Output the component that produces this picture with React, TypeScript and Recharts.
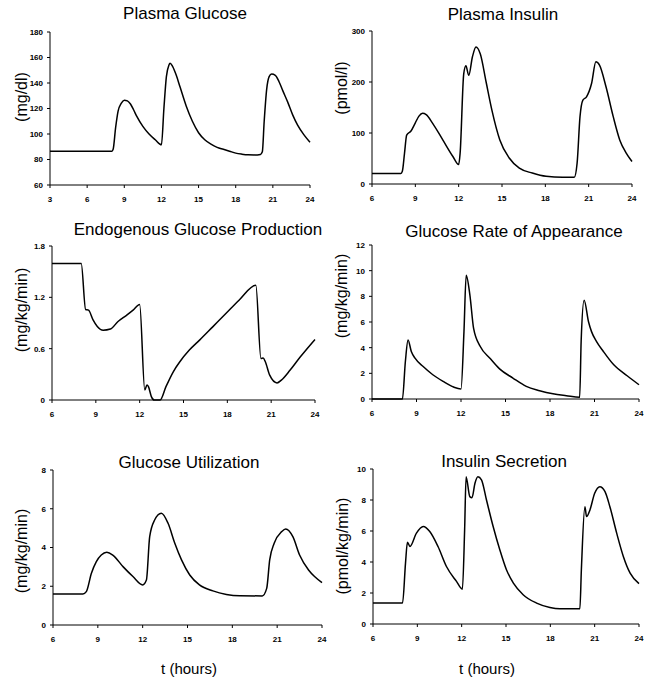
import { Line, LineChart, XAxis, YAxis } from "recharts";

// ---- data (t in hours) ----
const glucoseHours = [3, 8, 8.1, 8.3, 8.5, 8.75, 9, 9.25, 9.5, 9.75, 10, 10.5, 11, 11.5, 12, 12.2, 12.4, 12.6, 12.7, 12.9, 13.2, 13.5, 14, 14.5, 15, 15.5, 16, 16.5, 17, 17.5, 18, 18.5, 19, 19.5, 20, 20.15, 20.3, 20.5, 20.7, 20.9, 21.2, 21.5, 21.8, 22.2, 22.6, 23, 23.5, 24];
const glucoseMgDl = [86.5, 86.5, 88, 105, 118, 124, 126.5, 126, 123.5, 119, 114, 106, 100, 95.5, 91.5, 120, 145, 154, 155.5, 153, 146, 137, 122, 110, 101, 95.5, 92, 89.5, 88, 86.5, 85, 84.2, 83.7, 83.6, 84, 86, 110, 135, 145, 147, 146, 141, 134, 125, 115, 107, 99.5, 93.5];

const insulinHours = [6, 8, 8.1, 8.25, 8.4, 8.7, 9, 9.25, 9.5, 9.75, 10.2, 10.9, 11.6, 12, 12.1, 12.35, 12.5, 12.7, 12.95, 13.2, 13.5, 13.9, 14.3, 14.85, 15.5, 16.2, 17.1, 18.05, 19.2, 20, 20.2, 20.4, 20.6, 20.85, 21.2, 21.5, 21.75, 22.2, 22.7, 23.15, 23.6, 24];
const insulinPmolL = [20.8, 20.8, 25, 60, 96, 104, 120, 133, 138.6, 136, 119, 86.5, 54, 38, 60, 216, 232, 213, 249, 268.7, 255, 200, 145, 86.5, 51, 31, 21.5, 15, 13, 13, 41, 132, 164.6, 171, 197, 239.5, 233, 190.6, 132, 86.5, 60.5, 44];

const egpHours = [6, 8, 8.3, 8.5, 8.8, 9.1, 9.5, 10, 10.5, 11.1, 11.55, 12, 12.35, 12.5, 12.6, 12.8, 13, 13.4, 13.8, 14.3, 14.75, 15.4, 16.1, 17, 17.9, 18.8, 19.95, 20.3, 20.45, 20.6, 20.9, 21.4, 21.7, 22.3, 23, 24];
const egpRate = [1.594, 1.594, 1.058, 1.05, 0.94, 0.86, 0.816, 0.83, 0.914, 0.99, 1.05, 1.116, 0.117, 0.175, 0.156, 0.04, 0, 0, 0.156, 0.33, 0.447, 0.583, 0.7, 0.855, 1.01, 1.166, 1.341, 0.486, 0.49, 0.447, 0.29, 0.2, 0.233, 0.35, 0.505, 0.708];

const raHours = [6, 8.05, 8.25, 8.43, 8.65, 8.9, 9.45, 10.1, 10.8, 11.5, 12, 12.2, 12.35, 12.6, 12.85, 13.3, 13.95, 14.6, 15.5, 16.4, 17.3, 18.2, 19.1, 20, 20.1, 20.3, 20.6, 20.8, 21.14, 21.6, 22.3, 23.2, 24];
const raRate = [0, 0, 2.92, 4.6, 3.7, 3.18, 2.53, 1.89, 1.37, 0.93, 0.78, 5.25, 9.65, 8.1, 5.5, 4.09, 3.18, 2.35, 1.63, 0.98, 0.65, 0.41, 0.26, 0.13, 4.5, 7.7, 6.0, 5.25, 4.47, 3.7, 2.66, 1.81, 1.11];

const uptakeHours = [6, 8, 8.23, 8.57, 8.9, 9.23, 9.6, 10, 10.7, 11.35, 12, 12.25, 12.47, 12.8, 13.25, 13.7, 14.15, 14.6, 15.15, 15.8, 16.7, 17.6, 18.5, 20, 20.3, 20.5, 20.8, 21.3, 21.57, 22.05, 22.5, 23.1, 23.5, 24];
const uptakeRate = [1.6, 1.6, 1.72, 2.67, 3.27, 3.61, 3.75, 3.61, 3.0, 2.5, 2.07, 2.32, 4.56, 5.42, 5.77, 5.25, 4.22, 3.36, 2.58, 2.07, 1.76, 1.58, 1.51, 1.5, 1.89, 3.36, 4.22, 4.82, 4.96, 4.56, 3.61, 2.84, 2.5, 2.19];

const secretionHours = [6, 8, 8.2, 8.33, 8.5, 8.94, 9.4, 9.84, 10.4, 10.97, 11.65, 12.05, 12.2, 12.3, 12.55, 12.7, 12.9, 13.1, 13.34, 13.68, 14.13, 14.58, 15.03, 15.5, 16.16, 17.07, 17.97, 18.65, 20, 20.1, 20.34, 20.45, 20.68, 21, 21.35, 21.7, 22.03, 22.49, 22.94, 23.4, 24];
const secretionRate = [1.35, 1.35, 3.93, 5.28, 5.0, 5.86, 6.29, 5.97, 5.0, 3.71, 2.75, 2.25, 6.07, 9.5, 8.22, 8.15, 9.08, 9.5, 9.3, 8.0, 6.29, 4.79, 3.5, 2.64, 1.89, 1.35, 1.07, 0.99, 0.99, 3.5, 7.57, 6.93, 7.36, 8.43, 8.86, 8.54, 7.57, 5.86, 4.36, 3.28, 2.6];

const dayTicks = [6, 9, 12, 15, 18, 21, 24];
const glucoseDayTicks = [3, 6, 9, 12, 15, 18, 21, 24];
const glucoseTicks = [60, 80, 100, 120, 140, 160, 180];
const insulinTicks = [0, 100, 200, 300];
const egpTicks = [0, 0.6, 1.2, 1.8];
const raTicks = [0, 2, 4, 6, 8, 10, 12];
const uptakeTicks = [0, 2, 4, 6, 8];
const secretionTicks = [0, 2, 4, 6, 8, 10];

const FONT = '"Liberation Sans", Arial, Helvetica, sans-serif';

function zip(hours: number[], vals: number[]) {
  return hours.map((t, i) => ({ t, v: vals[i] }));
}

type Box = [number, number, number, number]; // plot left, right, top, bottom

interface PanelProps {
  box: Box;
  title: string;
  titleX: number;
  titleY: number;
  yLabel: string;
  labelX: number;
  labelY: number;
  hours: number[];
  values: number[];
  xTicks: number[];
  yTicks: number[];
}

function Panel({ box, title, titleX, titleY, yLabel, labelX, labelY, hours, values, xTicks, yTicks }: PanelProps) {
  const [x0, x1, y0, y1] = box;
  const padL = 40;
  const padT = 6;
  const padR = 12;
  const axisH = 24;
  const tick = { fontSize: 8, fontWeight: 700, fill: "#000", fontFamily: FONT };
  return (
    <>
      <div style={{ position: "absolute", left: x0 - padL, top: y0 - padT }}>
        <LineChart
          width={x1 - x0 + padL + padR}
          height={y1 - y0 + padT + axisH}
          data={zip(hours, values)}
          margin={{ top: padT, right: padR, bottom: 0, left: 0 }}
        >
          <XAxis
            dataKey="t"
            type="number"
            domain={[xTicks[0], xTicks[xTicks.length - 1]]}
            ticks={xTicks}
            interval={0}
            height={axisH}
            tickSize={3}
            tickMargin={8}
            stroke="#000"
            tick={tick}
          />
          <YAxis
            type="number"
            domain={[yTicks[0], yTicks[yTicks.length - 1]]}
            ticks={yTicks}
            interval={0}
            width={padL}
            tickSize={3}
            tickMargin={4}
            stroke="#000"
            tick={tick}
          />
          <Line
            dataKey="v"
            type="monotone"
            stroke="#000"
            strokeWidth={1.5}
            dot={false}
            isAnimationActive={false}
          />
        </LineChart>
      </div>
      <div
        style={{
          position: "absolute",
          left: titleX,
          top: titleY,
          transform: "translate(-50%, -50%)",
          fontSize: 17,
          whiteSpace: "nowrap",
        }}
      >
        {title}
      </div>
      <div
        style={{
          position: "absolute",
          left: labelX,
          top: labelY,
          transform: "translate(-50%, -50%) rotate(-90deg)",
          fontSize: 16,
          whiteSpace: "nowrap",
        }}
      >
        {yLabel}
      </div>
    </>
  );
}

export default function App() {
  return (
    <div
      style={{
        position: "absolute",
        left: 0,
        top: 0,
        width: 649,
        height: 678,
        background: "#fff",
        fontFamily: FONT,
        color: "#000",
      }}
    >
      <Panel box={[50, 310, 32, 185]} title="Plasma Glucose" titleX={185} titleY={14} yLabel="(mg/dl)" labelX={22} labelY={97}
        hours={glucoseHours} values={glucoseMgDl} xTicks={glucoseDayTicks} yTicks={glucoseTicks} />
      <Panel box={[372, 632, 31, 184]} title="Plasma Insulin" titleX={503} titleY={15} yLabel="(pmol/l)" labelX={342} labelY={88}
        hours={insulinHours} values={insulinPmolL} xTicks={dayTicks} yTicks={insulinTicks} />
      <Panel box={[52, 315, 246, 400]} title="Endogenous Glucose Production" titleX={198} titleY={230} yLabel="(mg/kg/min)" labelX={22} labelY={310}
        hours={egpHours} values={egpRate} xTicks={dayTicks} yTicks={egpTicks} />
      <Panel box={[372, 639, 245, 399]} title="Glucose Rate of Appearance" titleX={514} titleY={232} yLabel="(mg/kg/min)" labelX={342} labelY={296}
        hours={raHours} values={raRate} xTicks={dayTicks} yTicks={raTicks} />
      <Panel box={[53, 322, 470, 625]} title="Glucose Utilization" titleX={189} titleY={463} yLabel="(mg/kg/min)" labelX={22} labelY={551}
        hours={uptakeHours} values={uptakeRate} xTicks={dayTicks} yTicks={uptakeTicks} />
      <Panel box={[373, 639, 469, 624]} title="Insulin Secretion" titleX={504} titleY={462} yLabel="(pmol/kg/min)" labelX={343} labelY={546}
        hours={secretionHours} values={secretionRate} xTicks={dayTicks} yTicks={secretionTicks} />
      <div style={{ position: "absolute", left: 189, top: 668, transform: "translate(-50%, -50%)", fontSize: 15 }}>
        t (hours)
      </div>
      <div style={{ position: "absolute", left: 487, top: 668, transform: "translate(-50%, -50%)", fontSize: 15 }}>
        t (hours)
      </div>
    </div>
  );
}
